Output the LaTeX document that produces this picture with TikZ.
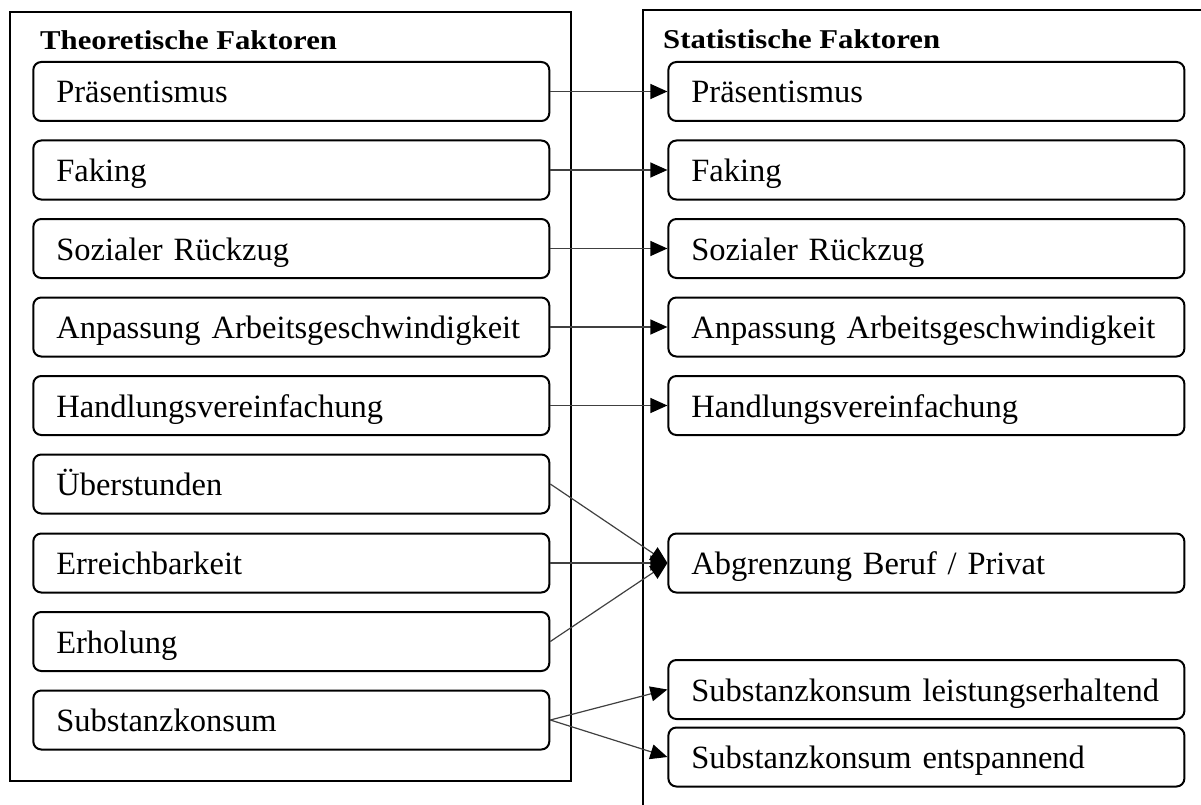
\documentclass[tikz,border=0pt]{standalone}
\usepackage{fontspec}
\usepackage{graphicx}
\setmainfont{Liberation Serif}
\newcommand{\widetitle}[1]{\scalebox{1.13}[1]{#1}}
\usetikzlibrary{arrows.meta}
\begin{document}
\begin{tikzpicture}[x=1pt,y=-1pt,
  factorbox/.style={draw, line width=2pt, rounded corners=8pt, minimum height=59pt,
    text width=470pt, inner xsep=23pt, inner ysep=0pt, align=left,
    font=\fontsize{32.5}{38}\selectfont, text height=24pt, text depth=1pt},
  frame/.style={line width=2pt},
  title/.style={anchor=base west, inner sep=0pt, font=\bfseries\fontsize{27.2}{32}\selectfont},
  arr/.style={draw=black!75, line width=1.2pt, -{Triangle[length=17pt,width=15pt,color=black]}}
]
\useasboundingbox (0,0) rectangle (1201,805);
% frames
\draw[frame] (9.6,12.5) rectangle (571,781);
\draw[frame] (1201,10) -- (643,10) -- (643,805);
\node[title] (tl) at (40,49.5) {\widetitle{Theoretische Faktoren}};
\node[title] (tr) at (663,49) {\widetitle{Statistische Faktoren}};
% left boxes
\node[factorbox] (l1) at (291.3,91.5) {Präsentismus};
\node[factorbox] (l2) at (291.3,170) {Faking};
\node[factorbox] (l3) at (291.3,248.5) {Sozialer Rückzug};
\node[factorbox] (l4) at (291.3,327) {Anpassung Arbeitsgeschwindigkeit};
\node[factorbox] (l5) at (291.3,405.5) {Handlungsvereinfachung};
\node[factorbox] (l6) at (291.3,484) {Überstunden};
\node[factorbox] (l7) at (291.3,563) {Erreichbarkeit};
\node[factorbox] (l8) at (291.3,641.5) {Erholung};
\node[factorbox] (l9) at (291.3,720) {Substanzkonsum};
% right boxes
\node[factorbox] (r1) at (926.4,91.5) {Präsentismus};
\node[factorbox] (r2) at (926.4,170) {Faking};
\node[factorbox] (r3) at (926.4,248.5) {Sozialer Rückzug};
\node[factorbox] (r4) at (926.4,327) {Anpassung Arbeitsgeschwindigkeit};
\node[factorbox] (r5) at (926.4,405.5) {Handlungsvereinfachung};
\node[factorbox] (r6) at (926.4,563) {Abgrenzung Beruf / Privat};
\node[factorbox] (r7) at (926.4,689.5) {Substanzkonsum leistungserhaltend};
\node[factorbox] (r8) at (926.4,757) {Substanzkonsum entspannend};
% connectors
\draw[arr] (l1.east) -- (r1.west);
\draw[arr] (l2.east) -- (r2.west);
\draw[arr] (l3.east) -- (r3.west);
\draw[arr] (l4.east) -- (r4.west);
\draw[arr] (l5.east) -- (r5.west);
\draw[arr] (l6.east) -- (r6.west);
\draw[arr] (l7.east) -- (r6.west);
\draw[arr] (l8.east) -- (r6.west);
\draw[arr] (l9.east) -- (r7.west);
\draw[arr] (l9.east) -- (r8.west);
\end{tikzpicture}
\end{document}
